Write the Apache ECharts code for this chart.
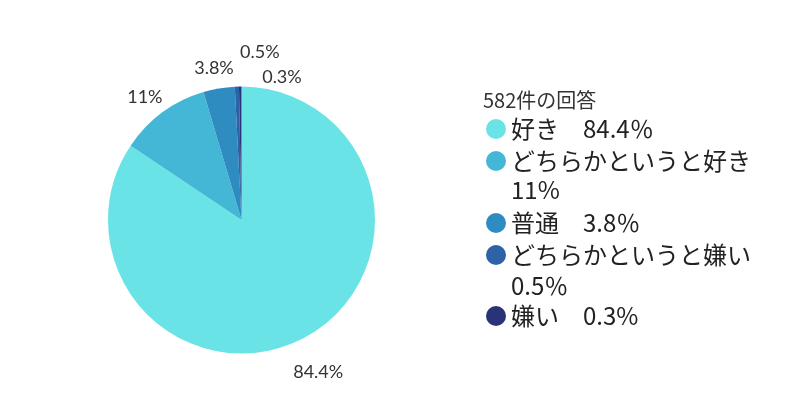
<!DOCTYPE html>
<html>
<head>
<meta charset="utf-8">
<script src="https://cdn.jsdelivr.net/npm/echarts@6/dist/echarts.min.js"></script>
<style>html,body{margin:0;padding:0;background:#fff}#c{width:800px;height:420px}</style>
</head>
<body>
<div id="c"></div>
<script>
// ---- data ----
const titleText = '582件の回答';
const categories = ['好き', 'どちらかというと好き', '普通', 'どちらかというと嫌い', '嫌い'];
const values = [84.4, 11, 3.8, 0.5, 0.3];
const sliceLabels = ['84.4%', '11%', '3.8%', '0.5%', '0.3%'];
const legendFirstLines = ['好き　84.4％', 'どちらかというと好き', '普通　3.8％', 'どちらかというと嫌い', '嫌い　0.3%'];
const legendSecondLines = ['', '11%', '', '0.5％', ''];

// ---- style / layout ----
const colors = ['#6ae3e7', '#45b7d6', '#2e8cc0', '#2d62a6', '#2b3378'];
const CX = 241.5, CY = 220, R = 133.5, LABEL_R = 163, LABEL_DY = 8.5;
const labelNudge = { 3: [24, -13], 4: [42, 12] };
const legendGroups = [[0, 1], [2, 3], [4]];
const legendGroupTop = [114, 208, 301];
const secondLineTop = { 1: 175, 3: 271 };
const LEG_FONT = { fontFamily: 'Noto Sans CJK JP', fontSize: 24, lineHeight: 30, color: '#222' };

const chart = echarts.init(document.getElementById('c'), null, { renderer: 'canvas' });
const total = values.reduce((a, b) => a + b, 0);

const titles = [{
  text: titleText,
  left: 483, top: 90, padding: 0,
  textStyle: { fontFamily: 'Noto Sans CJK JP', fontSize: 20, fontWeight: 'normal', color: '#333', lineHeight: 20 }
}];
legendSecondLines.forEach((t, i) => {
  if (t) titles.push({
    text: t, left: 511, top: secondLineTop[i], padding: 0,
    textStyle: Object.assign({ fontWeight: 'normal' }, LEG_FONT)
  });
});

const legends = legendGroups.map((g, k) => ({
  orient: 'vertical',
  left: 486, top: legendGroupTop[k], padding: 0,
  itemWidth: 20, itemHeight: 20, itemGap: 2,
  icon: 'circle',
  selectedMode: false,
  data: g.map(i => categories[i]),
  formatter: name => legendFirstLines[categories.indexOf(name)],
  textStyle: LEG_FONT
}));

const option = {
  animation: false,
  color: colors,
  title: titles,
  legend: legends,
  series: [{
    type: 'pie',
    center: [CX, CY],
    radius: R,
    startAngle: 90,
    clockwise: true,
    silent: true,
    itemStyle: { borderWidth: 0 },
    labelLine: { show: false, length: 10, length2: 0 },
    label: {
      show: true,
      position: 'outside',
      fontFamily: 'Lato, "Noto Sans"',
      fontSize: 18,
      color: '#333',
      formatter: p => sliceLabels[p.dataIndex]
    },
    labelLayout: params => {
      const i = params.dataIndex;
      let cum = 0;
      for (let k = 0; k < i; k++) cum += values[k];
      const mid = (cum + values[i] / 2) / total * Math.PI * 2;
      const dx = Math.sin(mid), dy = -Math.cos(mid);
      let x = CX + dx * LABEL_R;
      let y = CY + dy * LABEL_R + LABEL_DY;
      const n = labelNudge[i];
      if (n) { x += n[0]; y += n[1]; }
      return { x: x, y: y, align: 'center', verticalAlign: 'middle' };
    },
    data: categories.map((c, i) => ({ name: c, value: values[i] }))
  }]
};
chart.setOption(option);
</script>
</body>
</html>
